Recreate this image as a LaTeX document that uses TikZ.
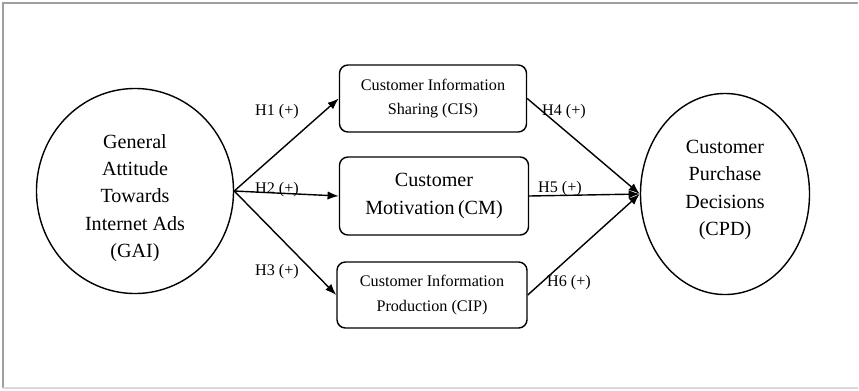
\documentclass[tikz,border=0pt]{standalone}
\usepackage{fontspec}
\setmainfont{Liberation Serif}
\usetikzlibrary{shapes.geometric,arrows.meta}

\begin{document}
\begin{tikzpicture}[x=0.025cm,y=-0.025cm,
  construct/.style={draw,ellipse,line width=1pt,inner sep=0pt},
  mediator/.style={draw,rounded corners=6pt,line width=1pt,inner sep=0pt,align=center},
  smalltext/.style={font=\fontsize{11.5}{16.3}\selectfont},
  bigtext/.style={font=\fontsize{14.3}{19.5}\selectfont,align=center},
  hyp/.style={font=\fontsize{11.5}{13}\selectfont,inner sep=0pt},
  path/.style={line width=1pt,-{Latex[length=2.8mm,width=2.1mm]}}]
\useasboundingbox (0,0) rectangle (859,390);
\draw[gray!75,line width=1.6pt] (3,388) -- (3,3) -- (858,3) ; % frame
\draw[gray!30,line width=1.2pt] (3,388) -- (858,388) ; % frame
\node[construct,minimum width=4.925cm,minimum height=5.125cm] (gai) at (135,191) {}; % GAI
\node[bigtext] (gaitext) at (135,198) {General\\Attitude\\Towards\\Internet Ads\\(GAI)};
\node[construct,minimum width=4.225cm,minimum height=5.025cm] (cpd) at (725,194) {}; % CPD
\node[bigtext] (cpdtext) at (725,190) {Customer\\Purchase\\Decisions\\(CPD)};
\node[mediator,smalltext,minimum width=4.675cm,minimum height=1.675cm] (cis) at (433,98.5) {Customer Information\\[1pt]Sharing (CIS)}; % CIS
\node[mediator,bigtext,minimum width=4.725cm,minimum height=1.95cm] (cm) at (434,196) {Customer\\Motivation\,(CM)}; % CM
\node[mediator,smalltext,minimum width=4.75cm,minimum height=1.65cm] (cip) at (432,295) {Customer Information\\[1pt]Production (CIP)}; % CIP
\draw[path] (gai.east) -- (cis.west) ; % H1
\draw[path] (gai.east) -- (cm.west) ; % H2
\draw[path] (gai.east) -- (cip.west) ; % H3
\draw[path] (cis.east) -- (cpd.west) ; % H4
\draw[path] (cm.east) -- (cpd.west) ; % H5
\draw[path] (cip.east) -- (cpd.west) ; % H6
\node[hyp] (h1) at (277,112) {H1 (+)};
\node[hyp] (h2) at (277,190) {H2 (+)};
\node[hyp] (h3) at (277,272) {H3 (+)};
\node[hyp] (h4) at (564,112) {H4 (+)};
\node[hyp] (h5) at (560,189) {H5 (+)};
\node[hyp] (h6) at (569,283) {H6 (+)};
\end{tikzpicture}
\end{document}
